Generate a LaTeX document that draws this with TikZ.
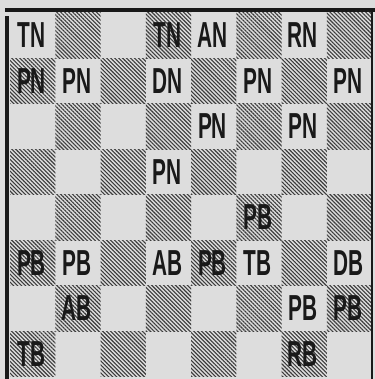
\documentclass[tikz,border=0pt]{standalone}
\usepackage{fontspec}
\setsansfont{Liberation Sans}
\usepackage{tikz}
\usetikzlibrary{patterns.meta}
\definecolor{paper}{RGB}{221,221,221}
\definecolor{ink}{RGB}{25,25,25}

\begin{document}
\begin{tikzpicture}[
  x=1bp, y=-1bp,
  font=\sffamily\bfseries\fontsize{22}{22}\selectfont,
  dark/.style={pattern={Lines[angle=-45,distance=2.8bp,line width=1.1bp]},
               pattern color=ink!85},
  piece/.style={inner sep=0pt, text=ink},
  frame/.style={draw=ink, line width=4bp}
]
\useasboundingbox[fill=paper] (0,0) rectangle (375,379);

% dark squares
\foreach \r in {0,...,7}
  \foreach \c in {0,...,7}{
    \pgfmathtruncatemacro\odd{mod(\r+\c,2)}
    \ifnum\odd=1
      \path[dark] (10+\c*45.25,12.5+\r*45.5) rectangle ++(45.25,45.5);
    \fi
  }

% pieces: column/row/label
\foreach \c/\r/\t in {0/0/TN,3/0/TN,4/0/AN,6/0/RN,
    0/1/PN,1/1/PN,3/1/DN,5/1/PN,7/1/PN,
    4/2/PN,6/2/PN,3/3/PN,5/4/PB,
    0/5/PB,1/5/PB,3/5/AB,4/5/PB,5/5/TB,7/5/DB,
    1/6/AB,6/6/PB,7/6/PB,0/7/TB,6/7/RB}
  \node[piece] (p-\c-\r) at (31.5+\c*45.25,35.5+\r*45.5)
    {\scalebox{0.95}[1.65]{\t}};

% board edges
\draw[frame] (5,10) -- (375,10);
\draw[frame] (7,16) -- (7,379);
\draw[ink, line width=1.5bp] (372,12) -- (372,379);
\end{tikzpicture}
\end{document}
